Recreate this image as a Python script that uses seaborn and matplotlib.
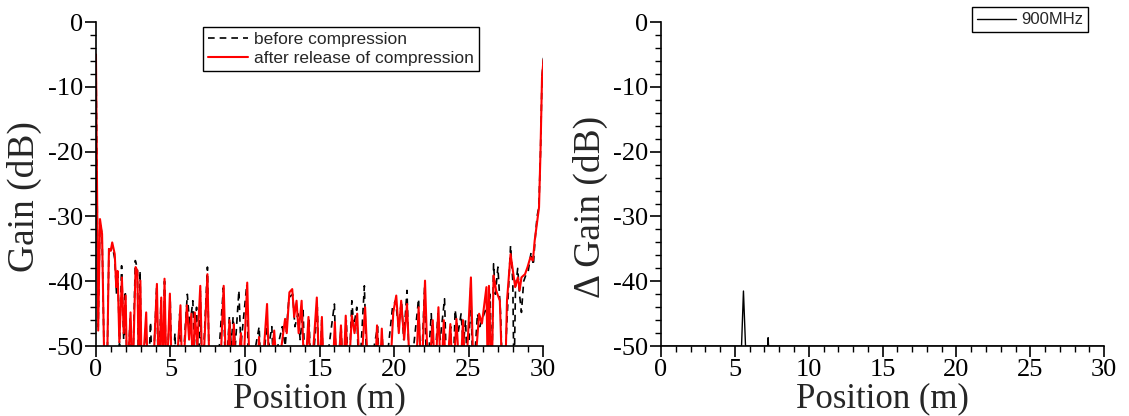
import numpy as np
import pandas as pd
import matplotlib
matplotlib.use("Agg")
import matplotlib.pyplot as plt
from matplotlib.ticker import MultipleLocator
import seaborn as sns

# Gain profile along the 30 m cable, before compression (black dashed)
before_pos = [0.0, 0.15, 0.27, 0.41, 0.58, 0.73, 0.87, 0.99, 1.09, 1.26, 1.38, 1.47, 1.58, 1.72, 1.86, 1.97,
              2.10, 2.30, 2.45, 2.64, 2.78, 2.86, 2.96, 3.07, 3.35, 3.50, 3.66, 3.80, 4.07, 4.20, 4.36, 4.48,
              4.60, 4.72, 4.98, 5.10, 5.30, 5.42, 5.62, 5.75, 6.13, 6.30, 6.50, 6.60, 6.75, 6.90, 7.00, 7.12,
              7.48, 7.62, 7.95, 8.10, 8.55, 8.70, 8.95, 9.08, 9.20, 9.35, 9.59, 9.72, 10.12, 10.25, 10.95,
              11.10, 11.45, 11.60, 11.80, 11.95, 12.20, 12.50, 12.70, 12.95, 13.20, 13.35, 13.55, 13.70,
              13.90, 14.05, 14.30, 14.45, 14.85, 15.00, 15.15, 15.30, 16.00, 16.15, 16.45, 16.60, 16.80,
              16.95, 17.17, 17.30, 17.50, 17.65, 18.01, 18.20, 18.90, 19.05, 19.20, 19.35, 19.90, 20.10,
              20.30, 20.50, 20.65, 20.87, 21.05, 21.65, 21.80, 22.05, 22.20, 22.50, 22.65, 22.95, 23.10,
              23.39, 23.55, 23.80, 23.95, 24.10, 24.30, 24.50, 24.65, 24.80, 24.95, 25.15, 25.30, 25.60,
              25.75, 26.20, 26.30, 26.45, 26.55, 26.68, 26.80, 26.97, 27.15, 27.30, 27.50, 27.82, 27.97,
              28.05, 28.15, 28.30, 28.42, 28.55, 28.70, 28.85, 29.00, 29.20, 29.35, 29.45, 29.60, 29.72,
              29.83, 29.93, 30.03]
before_gain = [-5.0, -47.0, -30.5, -33.0, -56, -56, -35.0, -35.5, -34.5, -36.5, -42.0, -39.0, -50.0, -37.6, -49.0, -41.5,
               -56, -45.5, -56, -36.8, -38.0, -56, -38.4, -56, -47.0, -56, -46.3, -56, -41.0, -56, -43.0, -56,
               -40.0, -56, -42.5, -56, -48.0, -56, -45.0, -56, -42.0, -47.0, -43.0, -50.0, -44.0, -56, -41.5, -56,
               -37.8, -56, -50.0, -56, -41.0, -56, -45.5, -50.0, -45.5, -50.0, -41.4, -50.0, -40.5, -56, -47.0,
               -56, -47.0, -50.0, -47.0, -56, -50.0, -47.0, -50.0, -42.5, -42.0, -47.0, -45.0, -49.0,
               -44.5, -56, -46.0, -56, -44.0, -56, -46.0, -56, -43.5, -56, -47.0, -56, -46.0,
               -56, -43.0, -47.0, -44.0, -56, -40.7, -56, -47.0, -56, -48.0, -56, -44.0, -43.0,
               -47.0, -43.0, -49.0, -41.4, -56, -42.7, -56, -41.0, -56, -45.0, -56, -45.0, -49.0,
               -42.7, -56, -47.0, -56, -44.4, -48.0, -45.0, -50.0, -46.0, -56, -41.0, -56, -45.0,
               -47.0, -44.0, -48.0, -42.0, -56, -37.3, -42.0, -37.8, -45.0, -56, -50.0, -34.5, -40.0,
               -56, -41.0, -38.0, -42.0, -44.8, -40.0, -39.0, -38.5, -35.5, -37.5, -34.0, -30.0, -28.5,
               -20.0, -8.5, -5.5]

# Gain profile after the compression is released (red)
after_pos = [0.0, 0.15, 0.27, 0.41, 0.58, 0.73, 0.87, 0.99, 1.09, 1.26, 1.36, 1.45, 1.57, 1.74, 1.86, 1.99,
             2.10, 2.32, 2.45, 2.66, 2.78, 2.88, 2.98, 3.07, 3.37, 3.49, 3.80, 4.09, 4.22, 4.38, 4.50, 4.60,
             4.74, 4.96, 5.10, 5.35, 5.67, 5.80, 6.10, 6.25, 6.40, 6.50, 6.63, 6.80, 7.00, 7.15, 7.48, 7.63,
             8.30, 8.57, 8.75, 8.96, 9.10, 9.25, 9.42, 9.73, 9.85, 10.15, 10.33, 10.80, 10.94, 11.10, 11.48,
             11.65, 11.96, 12.20, 12.45, 12.69, 12.80, 12.98, 13.17, 13.30, 13.46, 13.60, 13.80, 14.00,
             14.26, 14.42, 14.82, 15.00, 15.16, 15.30, 15.85, 16.03, 16.20, 16.44, 16.58, 16.76, 16.92,
             17.17, 17.35, 17.53, 17.72, 18.06, 18.30, 18.70, 18.86, 19.02, 19.18, 19.35, 19.70, 19.95,
             20.15, 20.32, 20.48, 20.68, 20.87, 21.10, 21.45, 21.65, 21.85, 22.08, 22.30, 22.60, 22.75,
             22.98, 23.15, 23.34, 23.50, 23.78, 23.95, 24.19, 24.42, 24.63, 24.80, 25.16, 25.35, 25.71,
             25.90, 26.20, 26.30, 26.37, 26.55, 26.68, 26.85, 27.10, 27.28, 27.45, 27.58, 27.82, 27.94,
             28.13, 28.31, 28.43, 28.55, 28.79, 28.96, 29.15, 29.32, 29.44, 29.64, 29.73, 29.83, 29.93,
             30.03]
after_gain = [-5.0, -47.6, -30.4, -32.7, -56, -56, -35.0, -35.3, -34.0, -35.8, -40.9, -38.4, -49.4, -39.4, -48.0, -42.2,
              -56, -44.8, -56, -37.8, -38.4, -56, -39.9, -56, -44.8, -56, -56, -40.4, -56, -42.5, -56, -39.6,
              -56, -41.9, -56, -56, -43.7, -56, -43.7, -49.0, -45.0, -56, -44.8, -50.0, -40.7, -56, -38.9, -56,
              -56, -40.7, -56, -46.0, -56, -46.6, -56, -48.0, -56, -40.2, -56, -56, -48.6, -56, -43.5,
              -56, -47.6, -56, -50.0, -45.8, -48.0, -41.7, -41.2, -45.5, -43.0, -48.0, -43.0, -56,
              -45.5, -56, -42.5, -56, -45.5, -56, -56, -46.3, -56, -46.8, -56, -45.3, -56,
              -45.3, -48.0, -45.0, -56, -44.0, -56, -56, -46.8, -56, -47.3, -56, -56, -44.8,
              -42.2, -48.0, -43.0, -49.0, -43.5, -56, -56, -44.0, -56, -39.9, -56, -46.0, -56,
              -44.0, -56, -46.0, -56, -46.6, -56, -45.8, -56, -46.0, -56, -39.4, -56, -45.0,
              -46.5, -40.9, -56, -40.7, -56, -39.1, -41.4, -43.0, -56, -56, -43.0, -35.8, -37.8,
              -40.9, -39.4, -41.4, -39.4, -38.9, -37.8, -36.3, -36.8, -33.7, -30.2, -28.6, -19.9, -8.6,
              -5.8]

# Gain change at 900 MHz
delta_pos = [0.0, 5.45, 5.58, 5.72, 7.22, 7.25, 7.28, 30.0]
delta_gain = [-50.0, -50.0, -41.5, -50.0, -50.0, -48.7, -50.0, -50.0]

x_ticks = [0, 5, 10, 15, 20, 25, 30]
y_ticks = [0, -10, -20, -30, -40, -50]

sns.set_theme(style="ticks")
plt.rcParams["font.family"] = ["Liberation Serif", "DejaVu Serif"]
plt.rcParams["axes.linewidth"] = 1.2

fig = plt.figure(figsize=(11.29, 4.16), dpi=100)
ax1 = fig.add_axes([0.085, 0.168, 0.396, 0.779])
ax2 = fig.add_axes([0.5855, 0.168, 0.3925, 0.779])

df_before = pd.DataFrame({"pos": before_pos, "gain": before_gain})
df_after = pd.DataFrame({"pos": after_pos, "gain": after_gain})
df_delta = pd.DataFrame({"pos": delta_pos, "gain": delta_gain})

sns.lineplot(data=df_before, x="pos", y="gain", ax=ax1, color="black", linewidth=1.2,
             linestyle=(0, (4, 3)), sort=False, estimator=None, label="before compression")
sns.lineplot(data=df_after, x="pos", y="gain", ax=ax1, color="red", linewidth=1.5,
             sort=False, estimator=None, label="after release of compression")
sns.lineplot(data=df_delta, x="pos", y="gain", ax=ax2, color="black", linewidth=1.0,
             sort=False, estimator=None, label="900MHz")

for ax, ylab, ly in ((ax1, "Gain (dB)", 0.46), (ax2, "\u0394 Gain (dB)", 0.43)):
    ax.set_xlim(0, 30)
    ax.set_ylim(-50, 0)
    ax.set_xticks(x_ticks)
    ax.set_yticks(y_ticks)
    ax.set_xticklabels([str(t) for t in x_ticks])
    ax.set_yticklabels([str(t) for t in y_ticks])
    ax.xaxis.set_minor_locator(MultipleLocator(1))
    ax.yaxis.set_minor_locator(MultipleLocator(2))
    ax.tick_params(which="major", direction="out", length=8, width=1.2, labelsize=19, pad=1,
                   color="black", labelcolor="black")
    ax.tick_params(which="minor", direction="out", length=4, width=1.0, color="black")
    for side in ("top", "right"):
        ax.spines[side].set_visible(False)
    for side in ("left", "bottom"):
        ax.spines[side].set_color("black")
    ax.set_xlabel("Position (m)", fontsize=25, labelpad=1)
    ax.set_ylabel(ylab, fontsize=27)
    ax.yaxis.set_label_coords(-0.12, ly)

leg1 = ax1.legend(loc="upper left", bbox_to_anchor=(0.24, 0.985), frameon=True, fancybox=False,
                  edgecolor="black", framealpha=1, borderpad=0.3, labelspacing=0.2,
                  handlelength=2.3, handletextpad=0.3, borderaxespad=0,
                  prop={"family": "Liberation Sans", "size": 12.5})
leg1.get_frame().set_linewidth(1.0)

leg2 = ax2.legend(loc="upper right", bbox_to_anchor=(0.963, 1.045), frameon=True, fancybox=False,
                  edgecolor="black", framealpha=1, borderpad=0.3, handlelength=2.3,
                  handletextpad=0.3, borderaxespad=0,
                  prop={"family": "Liberation Sans", "size": 12})
leg2.get_frame().set_linewidth(1.0)

fig.savefig("out.png", dpi=100, facecolor="white")
